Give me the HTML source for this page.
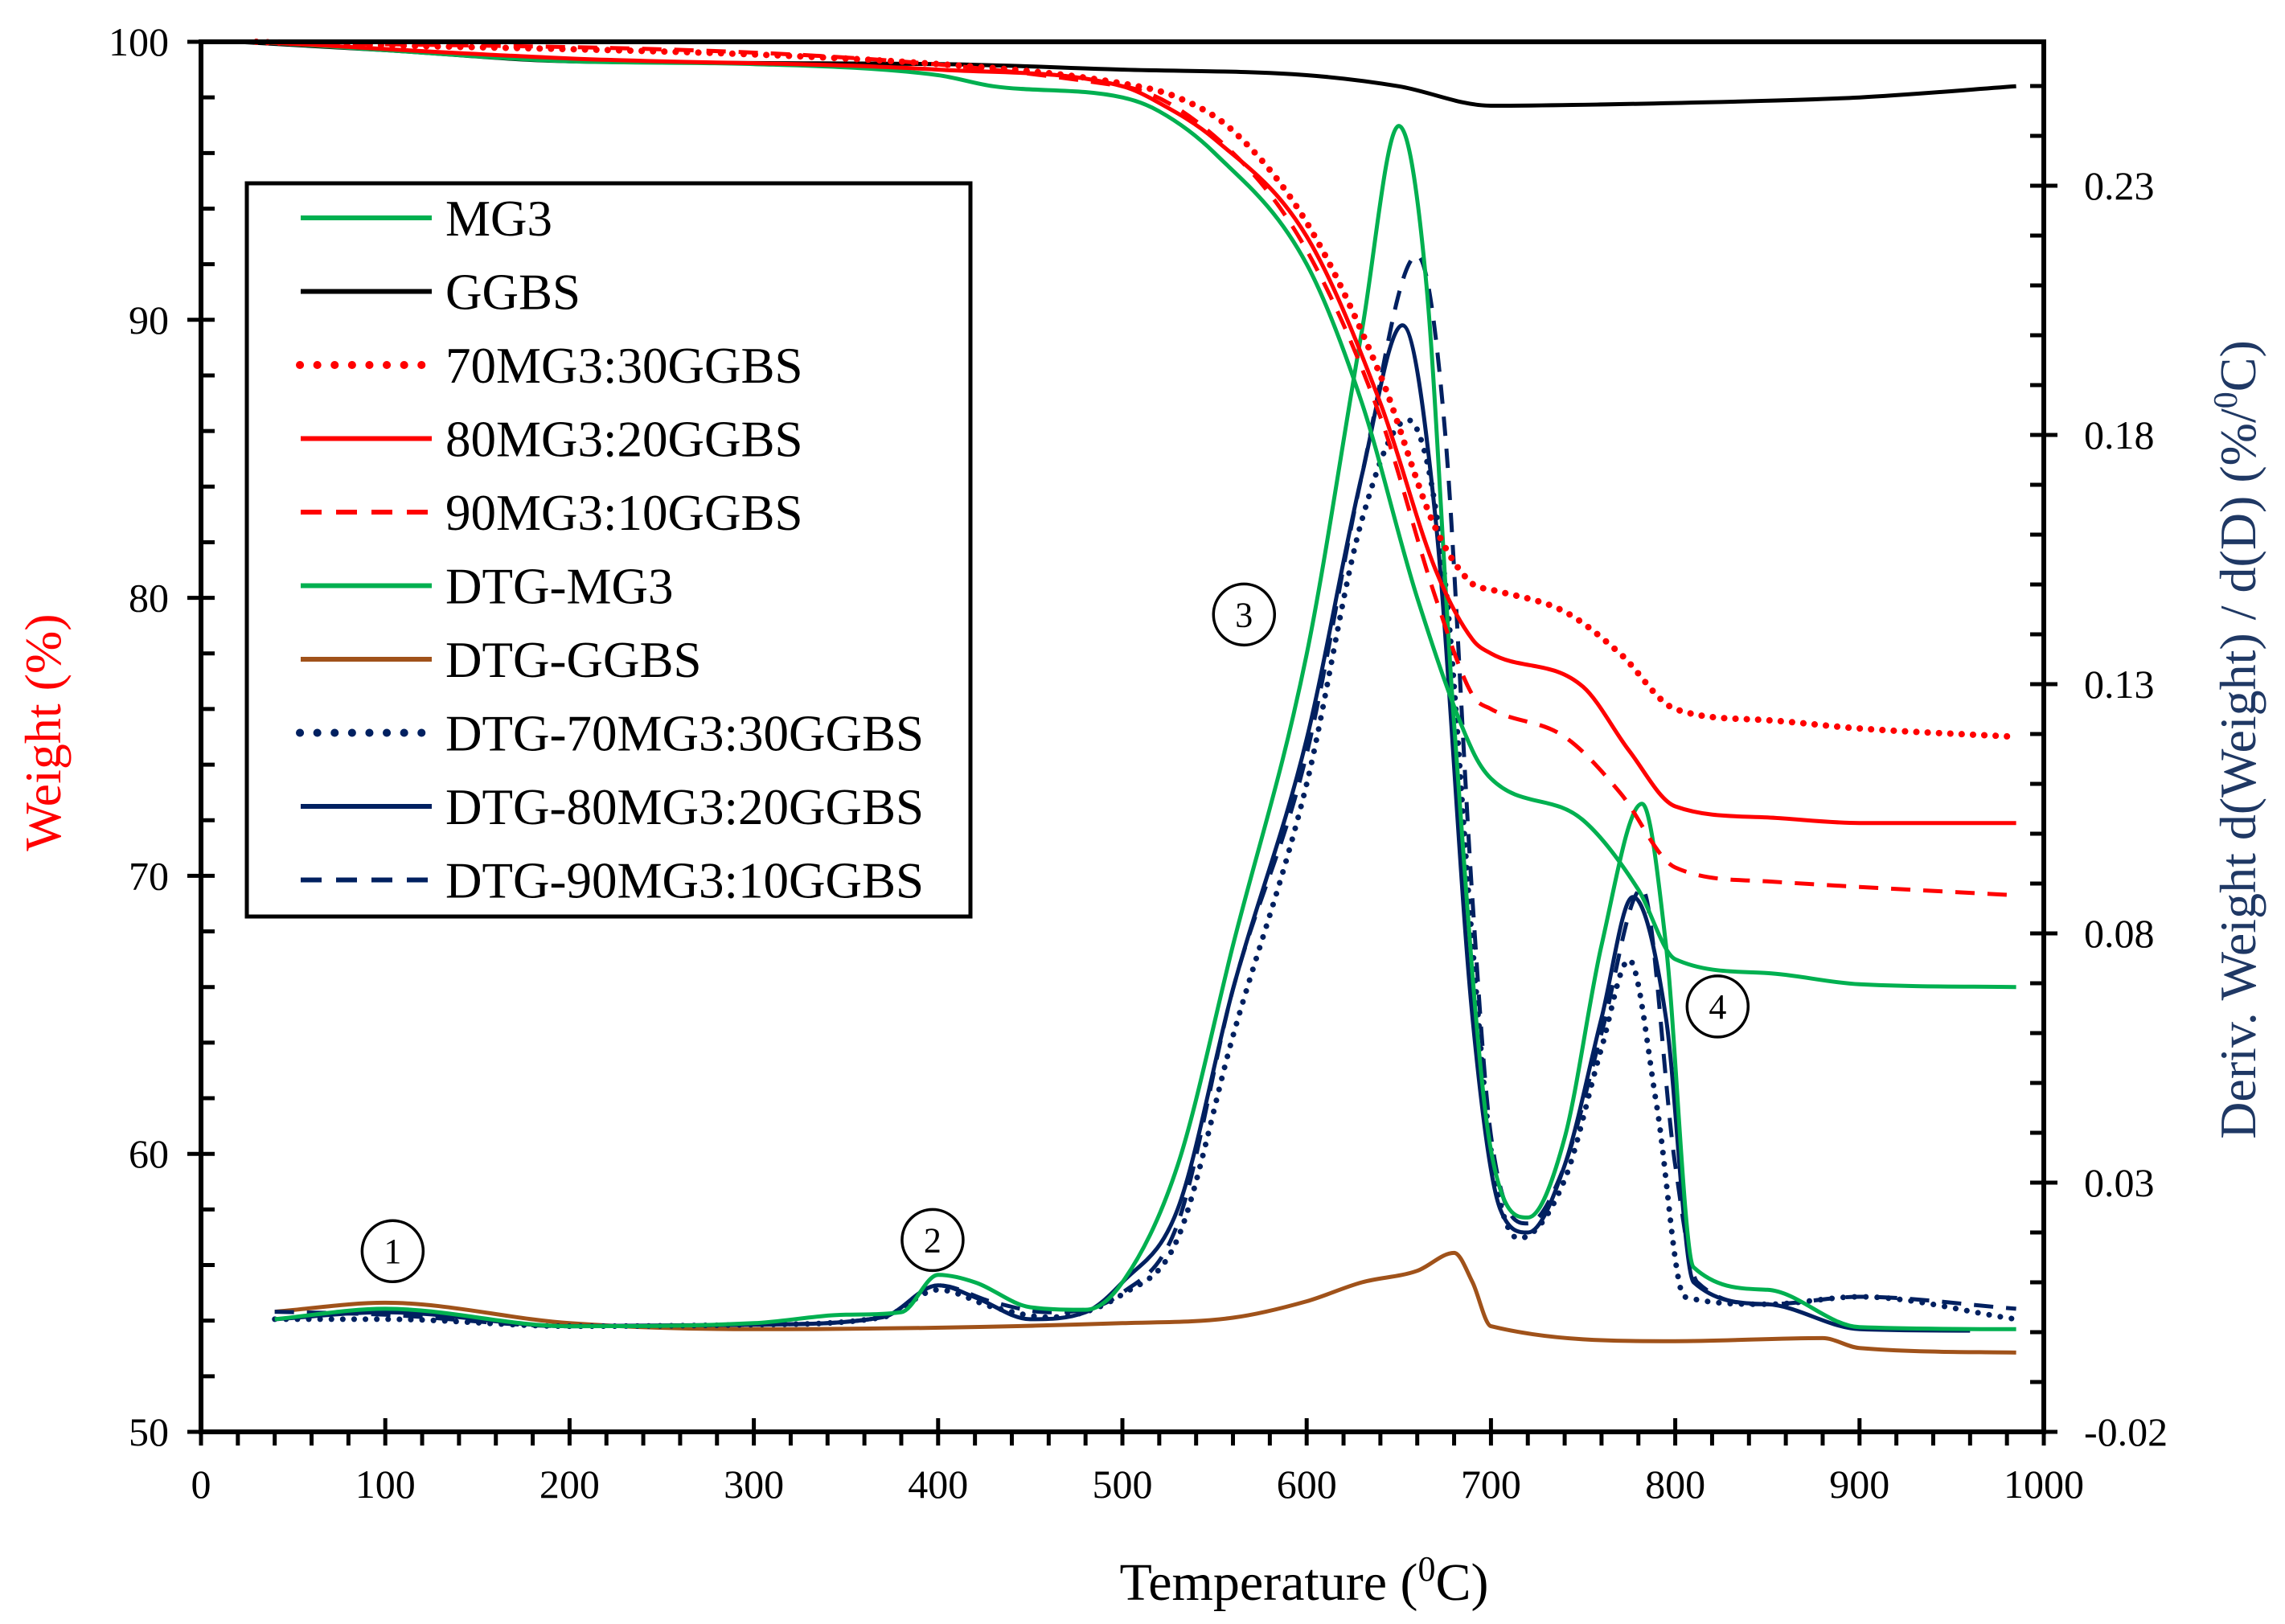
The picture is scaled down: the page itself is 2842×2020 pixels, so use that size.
<!DOCTYPE html>
<html><head><meta charset="utf-8"><style>
html,body{margin:0;padding:0;background:#fff}
svg{display:block}
text{font-family:"Liberation Serif",serif}
</style></head><body>
<svg id="chart" width="2842" height="2020" viewBox="0 0 2842 2020" xmlns="http://www.w3.org/2000/svg">
<g id="plot"></g>
<g id="axes"></g>
<g id="legend"></g>
<text x="0" y="0" transform="translate(75,911) rotate(-90)" text-anchor="middle" font-size="64" fill="#ff0000">Weight  (%)</text>
<text x="0" y="0" transform="translate(2805,920) rotate(-90)" text-anchor="middle" font-size="64" fill="#1f3864">Deriv.  Weight  d(Weight)  /  d(D)  (%/<tspan baseline-shift="super" font-size="42">0</tspan>C)</text>
<text x="1622" y="1990" text-anchor="middle" font-size="66" fill="#000">Temperature (<tspan baseline-shift="super" font-size="44">0</tspan>C)</text>
</svg>
<script>
const xTicks=[0,100,200,300,400,500,600,700,800,900,1000];
const yTicks=[50,60,70,80,90,100];
const y2Ticks=[-0.02,0.03,0.08,0.13,0.18,0.23];
const y2TickLabels=["-0.02","0.03","0.08","0.13","0.18","0.23"];

const tGGBS=[20,100,200,400,500,600,650,700,800,900,985];
const wGGBS=[100,99.7,99.3,99.2,99.0,98.8,98.4,97.7,97.8,98.0,98.4];
const tMG3=[30,100,200,300,400,430,500,520,550,600,630,660,690,700,750,780,800,850,900,985];
const wMG3=[100,99.7,99.3,99.2,98.8,98.4,98.0,97.5,96,92,87,80,74.5,73.5,72,69.5,67,66.5,66.1,66];
const t80=[30,200,400,500,520,550,600,640,670,690,700,750,775,800,850,900,985];
const w80=[100,99.4,99,98.4,97.8,96.5,93,87,81,78.5,78,76.8,74.5,72.5,72.1,71.9,71.9];
const t70=[30,400,500,530,560,600,640,670,690,700,740,770,800,850,900,985];
const w70=[100,99.2,98.5,98.0,96.8,93.5,88,82.5,80.5,80.3,79.5,78,76,75.6,75.3,75.0];
const t90=[30,500,560,600,640,670,690,700,740,770,800,850,900,985];
const w90=[100,98.4,96,92.5,86.5,80,76.5,76,75,73,70.3,69.8,69.6,69.3];

const tdMG3=[40,100,200,300,350,380,400,420,450,480,500,530,560,600,630,650,665,680,700,720,740,760,782,795,810,850,900,985];
const dMG3=[0.0026,0.0047,0.0012,0.0018,0.0035,0.004,0.0115,0.010,0.005,0.0045,0.010,0.0335,0.0776,0.136,0.201,0.242,0.210,0.122,0.0365,0.023,0.039,0.0776,0.106,0.0776,0.013,0.0085,0.001,0.0006];
const td80=[40,100,200,300,370,400,420,450,480,500,530,560,600,630,652,670,690,705,720,740,760,777,795,810,850,900,960];
const d80=[0.0026,0.004,0.0012,0.0015,0.003,0.0094,0.007,0.0026,0.004,0.010,0.0247,0.0688,0.119,0.172,0.202,0.163,0.063,0.0247,0.020,0.0335,0.063,0.0873,0.063,0.010,0.0056,0.0006,0.0003];
const td70=[40,100,200,300,370,400,430,460,500,530,560,600,630,655,675,690,700,715,740,760,775,790,805,850,900,985];
const d70=[0.0026,0.0026,0.0012,0.0015,0.003,0.0085,0.005,0.003,0.0076,0.0188,0.0594,0.110,0.163,0.183,0.151,0.0776,0.0365,0.0188,0.0306,0.057,0.0747,0.0453,0.0071,0.0056,0.0071,0.0026];
const td90=[40,100,200,300,370,400,430,460,500,530,560,600,630,660,675,690,700,720,740,760,782,800,812,850,900,985];
const d90=[0.0041,0.0035,0.0012,0.0015,0.003,0.0094,0.006,0.004,0.0079,0.0218,0.0688,0.116,0.172,0.216,0.181,0.0865,0.0394,0.0218,0.0335,0.060,0.089,0.0335,0.010,0.0056,0.0071,0.0047];
const tdGGBS=[40,100,200,300,500,560,600,630,660,680,690,700,800,880,900,985];
const dGGBS=[0.0041,0.0059,0.0018,0.0006,0.0018,0.0029,0.0062,0.010,0.0123,0.0159,0.010,0.0012,-0.0018,-0.0012,-0.0032,-0.0041];

const X0=250,X1=2542,YB=1781,YT=52;
const xs=t=>X0+(X1-X0)*t/1000;
const yl=w=>YB-(YB-YT)*(w-50)/50;
const y2=v=>YB-(v+0.02)*6200;
const NS='http://www.w3.org/2000/svg';
function mk(tag,attrs,parent){const e=document.createElementNS(NS,tag);for(const k in attrs)e.setAttribute(k,attrs[k]);parent.appendChild(e);return e;}
function pathD(ts,vs,fy){
  const x=ts.map(xs),y=vs.map(fy),n=x.length;
  const d=[],m=new Array(n);
  for(let i=0;i<n-1;i++)d.push((y[i+1]-y[i])/(x[i+1]-x[i]));
  m[0]=d[0];m[n-1]=d[n-2];
  for(let i=1;i<n-1;i++){m[i]=(d[i-1]*d[i]<=0)?0:(d[i-1]+d[i])/2;}
  for(let i=0;i<n-1;i++){
    if(d[i]===0){m[i]=0;m[i+1]=0;continue;}
    const a=m[i]/d[i],b=m[i+1]/d[i],s=a*a+b*b;
    if(s>9){const tt=3/Math.sqrt(s);m[i]=tt*a*d[i];m[i+1]=tt*b*d[i];}
  }
  let p='M'+x[0].toFixed(1)+','+y[0].toFixed(1);
  for(let i=0;i<n-1;i++){
    const h=(x[i+1]-x[i])/3;
    p+='C'+(x[i]+h).toFixed(1)+','+(y[i]+m[i]*h).toFixed(1)+' '+(x[i+1]-h).toFixed(1)+','+(y[i+1]-m[i+1]*h).toFixed(1)+' '+x[i+1].toFixed(1)+','+y[i+1].toFixed(1);
  }
  return p;
}
const GREEN='#00b050',RED='#ff0000',NAVY='#002060',BROWN='#a0521a';
const series=[
 {name:'dtg-ggbs-line',t:tdGGBS,v:dGGBS,f:y2,c:BROWN,dash:''},
 {name:'dtg-70mg3-30ggbs-line',t:td70,v:d70,f:y2,c:NAVY,dash:'0.1 14',cap:'round',w:7},
 {name:'dtg-90mg3-10ggbs-line',t:td90,v:d90,f:y2,c:NAVY,dash:'24 16'},
 {name:'dtg-80mg3-20ggbs-line',t:td80,v:d80,f:y2,c:NAVY,dash:''},
 {name:'dtg-mg3-line',t:tdMG3,v:dMG3,f:y2,c:GREEN,dash:''},
 {name:'ggbs-line',t:tGGBS,v:wGGBS,f:yl,c:'#000',dash:''},
 {name:'mg3-line',t:tMG3,v:wMG3,f:yl,c:GREEN,dash:''},
 {name:'90mg3-10ggbs-line',t:t90,v:w90,f:yl,c:RED,dash:'24 16'},
 {name:'80mg3-20ggbs-line',t:t80,v:w80,f:yl,c:RED,dash:''},
 {name:'70mg3-30ggbs-line',t:t70,v:w70,f:yl,c:RED,dash:'0.1 14',cap:'round',w:8},
];
const plot=document.getElementById('plot');
series.forEach(s=>{
  const e=mk('path',{d:pathD(s.t,s.v,s.f),fill:'none',stroke:s.c,'stroke-width':s.w||5,'stroke-dasharray':s.dash,'stroke-linecap':s.cap||'butt','stroke-linejoin':'round'},plot);
  
  
});
const notes=[['1',104,56.5,'annotation-1'],['2',397,56.9,'annotation-2'],['3',566,79.4,'annotation-3'],['4',823,65.3,'annotation-4']];
notes.forEach(n=>{
  const g=mk('g',{},plot);
  
  
  mk('circle',{cx:xs(n[1]),cy:yl(n[2]),r:38,fill:'none',stroke:'#000','stroke-width':3.5},g);
  const t=mk('text',{x:xs(n[1]),y:yl(n[2])+15,'text-anchor':'middle','font-size':44},g);t.textContent=n[0];
});
const ax=document.getElementById('axes');
mk('rect',{x:X0,y:YT,width:X1-X0,height:YB-YT,fill:'none',stroke:'#000','stroke-width':6},ax);
for(let t=0;t<=1000;t+=20){const maj=t%100===0;mk('line',{x1:xs(t),x2:xs(t),y1:maj?YB-17:YB,y2:YB+17,stroke:'#000','stroke-width':5},ax);}
xTicks.forEach(t=>{const e=mk('text',{x:xs(t),y:YB+82,'text-anchor':'middle','font-size':50},ax);e.textContent=t;
  
  });
for(let w=50;w<=100;w+=2){const maj=w%10===0;mk('line',{x1:maj?X0-17:X0,x2:X0+17,y1:yl(w),y2:yl(w),stroke:'#000','stroke-width':5},ax);}
yTicks.forEach(w=>{const e=mk('text',{x:X0-40,y:yl(w)+17,'text-anchor':'end','font-size':50},ax);e.textContent=w;
  
  });
for(let i=0;i<=27;i++){const v=-0.02+i*0.01;if(y2(v)<YT)break;const maj=i%5===0;mk('line',{x1:X1-17,x2:maj?X1+17:X1,y1:y2(v),y2:y2(v),stroke:'#000','stroke-width':5},ax);}
y2Ticks.forEach((v,i)=>{const e=mk('text',{x:X1+50,y:y2(v)+17,'text-anchor':'start','font-size':50},ax);e.textContent=y2TickLabels[i];
  
  });
const lg=document.getElementById('legend');
mk('rect',{x:307,y:228,width:900,height:912,fill:'#fff',stroke:'#000','stroke-width':5},lg);
const items=[['MG3',GREEN,''],['GGBS','#000',''],['70MG3:30GGBS',RED,'dot'],['80MG3:20GGBS',RED,''],['90MG3:10GGBS',RED,'dash'],['DTG-MG3',GREEN,''],['DTG-GGBS',BROWN,''],['DTG-70MG3:30GGBS',NAVY,'dot'],['DTG-80MG3:20GGBS',NAVY,''],['DTG-90MG3:10GGBS',NAVY,'dash']];
items.forEach((it,i)=>{
  const y=271+i*91.5;
  const g=mk('g',{},lg);
  
  
  const a={x1:374,x2:537,y1:y,y2:y,stroke:it[1],'stroke-width':6};
  if(it[2]==='dot'){a['stroke-dasharray']='0.1 21.5';a['stroke-linecap']='round';a['stroke-width']=10;a.x1=373;}
  if(it[2]==='dash'){a['stroke-dasharray']='26 18';}
  mk('line',a,g);
  const t=mk('text',{x:554,y:y+22,'font-size':63},g);t.textContent=it[0];
});
</script>
</body></html>
